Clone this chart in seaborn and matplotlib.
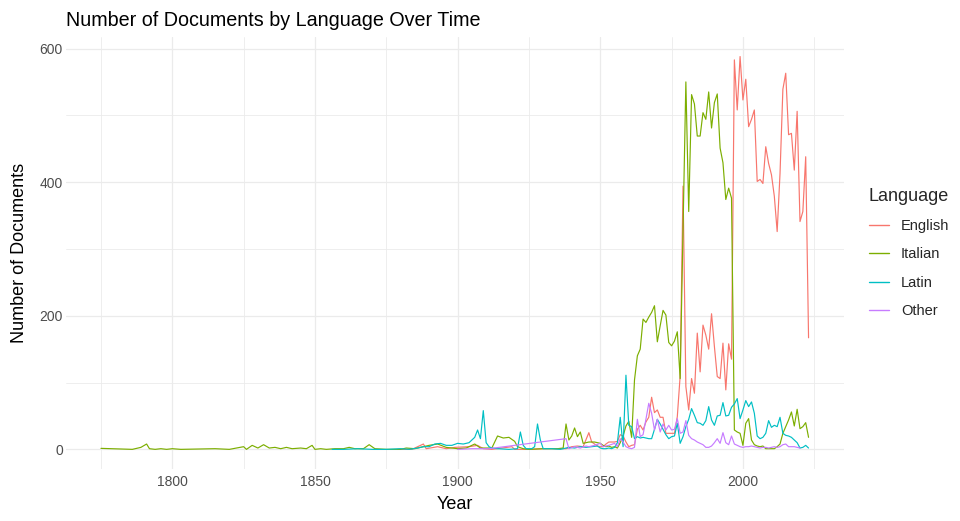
import numpy as np
import pandas as pd
import matplotlib
matplotlib.use("Agg")
import matplotlib.pyplot as plt
import seaborn as sns

# ---- data (documents per year) ----
english_years = [1879, 1884, 1888, 1889, 1893, 1896, 1899, 1904, 1907, 1909, 1912, 1919, 1920,
                 1925, 1930, 1935, 1938, 1940, 1942, 1944, 1946, 1947, 1948, 1949, 1950, 1951,
                 1952, 1953, 1954, 1955, 1956, 1957, 1958, 1959, 1960, 1961, 1962, 1963, 1964,
                 1965, 1966, 1967, 1968, 1969, 1970, 1971, 1972, 1973, 1974, 1975, 1976, 1977,
                 1978, 1979, 1980, 1981, 1982, 1983, 1984, 1985, 1986, 1987, 1988, 1989, 1990,
                 1991, 1992, 1993, 1994, 1995, 1996, 1997, 1998, 1999, 2000, 2001, 2002, 2003,
                 2004, 2005, 2006, 2007, 2008, 2009, 2010, 2011, 2012, 2013, 2014, 2015, 2016,
                 2017, 2018, 2019, 2020, 2021, 2022, 2023]
english_docs = [0, 0, 8, 1, 4, 1, 3, 4, 6, 1, 0, 4, 0,
                0, 1, 1, 1, 4, 5, 4, 25, 11, 8, 5, 4, 4,
                8, 11, 11, 11, 12, 22, 20, 11, 4, 6, 7, 30, 36,
                29, 41, 48, 78, 55, 59, 48, 48, 24, 24, 24, 24, 49,
                110, 394, 94, 59, 106, 84, 174, 116, 186, 171, 150, 203, 154,
                109, 106, 159, 89, 158, 135, 583, 508, 588, 523, 554, 483, 494,
                508, 401, 404, 398, 453, 428, 411, 379, 326, 413, 539, 563, 471,
                473, 418, 506, 341, 356, 438, 167]

italian_years = [1775, 1786, 1789, 1791, 1792, 1794, 1796, 1798, 1800, 1803, 1815, 1820, 1825,
                 1826, 1828, 1830, 1832, 1834, 1836, 1838, 1840, 1842, 1845, 1847, 1849, 1850,
                 1852, 1854, 1857, 1860, 1862, 1864, 1867, 1869, 1871, 1875, 1880, 1882, 1885,
                 1890, 1893, 1896, 1900, 1903, 1906, 1908, 1912, 1914, 1916, 1918, 1920, 1921,
                 1923, 1925, 1930, 1935, 1937, 1938, 1939, 1940, 1941, 1942, 1943, 1944, 1945,
                 1946, 1947, 1948, 1949, 1950, 1951, 1952, 1953, 1954, 1955, 1956, 1957, 1958,
                 1959, 1960, 1961, 1962, 1963, 1964, 1965, 1966, 1967, 1968, 1969, 1970, 1971,
                 1972, 1973, 1974, 1975, 1976, 1977, 1978, 1979, 1980, 1981, 1982, 1983, 1984,
                 1985, 1986, 1987, 1988, 1989, 1990, 1991, 1992, 1993, 1994, 1995, 1996, 1997,
                 1998, 1999, 2000, 2001, 2002, 2003, 2004, 2005, 2006, 2007, 2008, 2009, 2010,
                 2011, 2012, 2013, 2014, 2015, 2016, 2017, 2018, 2019, 2020, 2021, 2022, 2023]
italian_docs = [1.5, 0, 3, 8, 1, 0, 1, 0, 1, 0, 1, 0, 4,
                0, 6, 2, 7, 2, 3, 1, 3, 1, 2, 1, 6, 0,
                1, 0, 1, 1, 3, 1, 1, 7, 1, 0, 0, 2, 1,
                6, 8, 3, 1, 2, 8, 2, 2, 20, 17, 18, 12, 4,
                1, 0, 1, 1, 2, 38, 14, 20, 32, 19, 26, 9, 10,
                11, 11, 11, 10, 9, 6, 4, 5, 3, 4, 2, 10, 20,
                35, 42, 18, 104, 140, 150, 195, 190, 198, 205, 215, 161, 185,
                208, 201, 160, 155, 162, 176, 106, 330, 550, 356, 531, 517, 469,
                469, 504, 494, 535, 481, 519, 532, 451, 429, 374, 391, 376, 29,
                26, 24, 6, 39, 46, 14, 7, 5, 4, 5, 1, 1, 1,
                1, 4, 8, 24, 34, 44, 56, 35, 60, 31, 34, 40, 18]

latin_years = [1856, 1860, 1865, 1870, 1875, 1880, 1883, 1886, 1888, 1890, 1892, 1894, 1896,
               1898, 1900, 1902, 1904, 1905, 1906, 1907, 1908, 1909, 1910, 1911, 1912, 1914,
               1918, 1921, 1922, 1923, 1924, 1926, 1927, 1928, 1929, 1930, 1933, 1936, 1938,
               1939, 1941, 1943, 1945, 1947, 1949, 1950, 1951, 1952, 1953, 1954, 1955, 1956,
               1957, 1958, 1959, 1960, 1961, 1962, 1963, 1964, 1965, 1966, 1967, 1968, 1969,
               1970, 1971, 1972, 1973, 1974, 1975, 1976, 1977, 1978, 1979, 1980, 1981, 1982,
               1983, 1984, 1985, 1986, 1987, 1988, 1989, 1990, 1991, 1992, 1993, 1994, 1995,
               1996, 1997, 1998, 1999, 2000, 2001, 2002, 2003, 2004, 2005, 2006, 2007, 2008,
               2009, 2010, 2011, 2012, 2013, 2014, 2015, 2016, 2017, 2018, 2019, 2020, 2021,
               2022, 2023]
latin_docs = [0, 0, 1, 0, 0, 1, 0, 2, 4, 4, 8, 9, 6,
              6, 9, 8, 10, 14, 18, 29, 16, 58, 10, 4, 2, 1,
              0, 1, 26, 6, 1, 1, 4, 38, 14, 1, 1, 0, 2,
              3, 2, 4, 3, 4, 5, 2, 1, 1, 2, 1, 3, 10,
              48, 4, 111, 36, 34, 16, 19, 17, 18, 17, 16, 16, 30,
              45, 38, 30, 22, 16, 19, 20, 39, 9, 19, 34, 45, 61,
              51, 40, 39, 36, 43, 64, 44, 36, 50, 51, 70, 50, 51,
              63, 68, 76, 46, 59, 73, 64, 71, 54, 20, 16, 18, 24,
              43, 33, 36, 34, 48, 24, 21, 20, 18, 14, 10, 2, 3,
              6, 2]

other_years = [1900, 1905, 1911, 1938, 1939, 1941, 1943, 1945, 1946, 1948, 1950, 1951, 1953,
               1955, 1956, 1957, 1958, 1959, 1960, 1961, 1962, 1963, 1964, 1965, 1966, 1967,
               1968, 1969, 1970, 1971, 1972, 1973, 1974, 1975, 1976, 1977, 1978, 1979, 1980,
               1981, 1982, 1983, 1984, 1985, 1986, 1987, 1988, 1989, 1990, 1991, 1992, 1993,
               1994, 1995, 1996, 1997, 1998, 1999, 2000, 2001, 2002, 2003, 2004, 2005, 2006,
               2007, 2008, 2009, 2010, 2011, 2012, 2013, 2014, 2015, 2016, 2017, 2018, 2019,
               2020]
other_docs = [0, 1, 1, 16, 1, 4, 2, 5, 4, 6, 9, 4, 6,
              9, 4, 16, 11, 4, 2, 1, 3, 45, 19, 22, 45, 69,
              54, 29, 45, 26, 38, 29, 36, 29, 30, 46, 24, 26, 43,
              21, 16, 14, 11, 9, 7, 3, 3, 5, 10, 16, 9, 25,
              10, 7, 20, 8, 6, 4, 3, 4, 4, 5, 4, 3, 2,
              3, 3, 2, 3, 4, 3, 4, 7, 8, 4, 4, 4, 3,
              2]

languages = ["English", "Italian", "Latin", "Other"]
colors = ["#F8766D", "#7CAE00", "#00BFC4", "#C77CFF"]

frames = []
for lang, yrs, docs in zip(languages,
                           [english_years, italian_years, latin_years, other_years],
                           [english_docs, italian_docs, latin_docs, other_docs]):
    frames.append(pd.DataFrame({"Year": yrs, "Documents": docs, "Language": lang}))
df = pd.concat(frames, ignore_index=True)

# ---- styling (ggplot theme_minimal look) ----
sns.set_theme(style="white")
plt.rcParams["font.family"] = ["Liberation Sans", "DejaVu Sans"]

fig = plt.figure(figsize=(9.6, 5.21), dpi=100)
ax = fig.add_axes([0.0683, 0.0998, 0.8108, 0.8294])

sns.lineplot(data=df, x="Year", y="Documents", hue="Language", hue_order=languages,
             palette=colors, linewidth=0.85, estimator=None, errorbar=None, ax=ax)

ax.set_xlim(1762.6, 2035.4)
ax.set_ylim(-29.4, 617.4)
ax.set_xticks([1800, 1850, 1900, 1950, 2000])
ax.set_xticks([1775, 1825, 1875, 1925, 1975, 2025], minor=True)
ax.set_yticks([0, 200, 400, 600])
ax.set_yticks([100, 300, 500], minor=True)
ax.grid(which="major", color="#EBEBEB", linewidth=0.9)
ax.grid(which="minor", color="#EBEBEB", linewidth=0.6)
ax.set_axisbelow(True)
for s in ax.spines.values():
    s.set_visible(False)
ax.tick_params(which="both", length=0, labelsize=10, labelcolor="#4D4D4D")
ax.tick_params(axis="y", pad=2)
ax.tick_params(axis="x", pad=4)

ax.set_xlabel("Year", fontsize=13, color="black", labelpad=5)
ax.set_ylabel("Number of Documents", fontsize=13, color="black", labelpad=8)
ax.set_title("Number of Documents by Language Over Time", loc="left",
             fontsize=14.2, color="black", pad=8)

handles, labels = ax.get_legend_handles_labels()
leg = ax.legend(handles, labels, title="Language", loc="center left",
                bbox_to_anchor=(1.032, 0.5), frameon=False, borderaxespad=0,
                borderpad=0, fontsize=10.5, title_fontsize=13, handlelength=1.4,
                handletextpad=0.8, labelspacing=0.98, alignment="left")
for line in leg.get_lines():
    line.set_linewidth(1.0)

fig.savefig("out.png", dpi=100)
